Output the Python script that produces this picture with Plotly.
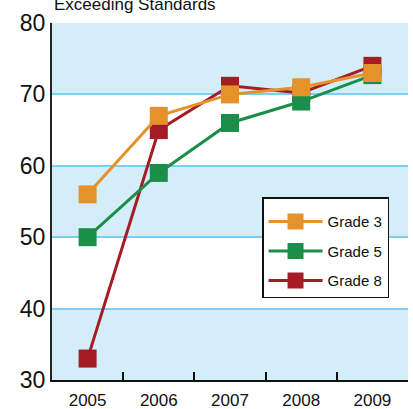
import plotly.graph_objects as go

years = ["2005", "2006", "2007", "2008", "2009"]
grade3 = [56, 67, 70, 71, 73]
grade5 = [50, 59, 66, 69, 72.7]
grade8 = [33, 65, 71.2, 70.2, 74]
y_ticks = [30, 40, 50, 60, 70, 80]
bands = [(30, 40), (50, 60), (70, 80)]

FONT = "Liberation Sans Narrow, Arial Narrow, Liberation Sans, Arial, sans-serif"
ORANGE = "#E5922A"
GREEN = "#1B8F4A"
RED = "#A51C24"
BAND = "#D3EDF9"
GRID = "#7DCFF1"

fig = go.Figure()
series = [("Grade 8", grade8, RED, 3), ("Grade 5", grade5, GREEN, 2), ("Grade 3", grade3, ORANGE, 1)]
for name, vals, col, rank in series:
    fig.add_trace(go.Scatter(
        x=years, y=vals, name=name, mode="lines+markers", legendgroup=name,
        legendrank=rank,
        line=dict(color=col, width=3),
        marker=dict(symbol="square", size=18, color=col, line=dict(width=0)),
    ))

shapes = []
for lo, hi in bands:
    shapes.append(dict(type="rect", xref="paper", yref="y", x0=0, x1=1, y0=lo, y1=hi,
                       fillcolor=BAND, line=dict(width=0), layer="below"))

fig.update_layout(
    width=413, height=409,
    margin=dict(l=52, r=5, t=23, b=29),
    paper_bgcolor="white", plot_bgcolor="white",
    font=dict(family=FONT, color="#111"),
    shapes=shapes,
    showlegend=True,
    legend=dict(
        x=0.59, y=0.512, xanchor="left", yanchor="top",
        bgcolor="white", bordercolor="#111", borderwidth=1.5,
        font=dict(family=FONT, size=15, color="#111"),
        traceorder="grouped", itemwidth=54, tracegroupgap=7,
        title=dict(text=" ", font=dict(size=5)),
    ),
    annotations=[dict(
        text="Exceeding Standards", xref="paper", yref="paper", x=0, y=1,
        xanchor="left", yanchor="bottom", yshift=7, showarrow=False,
        font=dict(family=FONT, size=17, color="#111"),
    )],
)
fig.update_xaxes(
    type="category", range=[-0.5, 4.5], automargin=False,
    showline=True, linecolor="#111", linewidth=2,
    ticks="inside", tickson="boundaries", ticklen=8, tickwidth=2, tickcolor="#111",
    showgrid=False, tickfont=dict(family=FONT, size=17, color="#111"),
    ticklabelstandoff=4,
)
fig.update_yaxes(
    range=[30, 80], tickvals=y_ticks, automargin=False,
    showline=True, linecolor="#222", linewidth=2,
    showgrid=True, gridcolor=GRID, gridwidth=2, zeroline=False,
    tickfont=dict(family=FONT, size=23, color="#111"),
)
fig.write_html("out.html", post_script="document.body.style.margin='0';",
               config={"displayModeBar": False})
